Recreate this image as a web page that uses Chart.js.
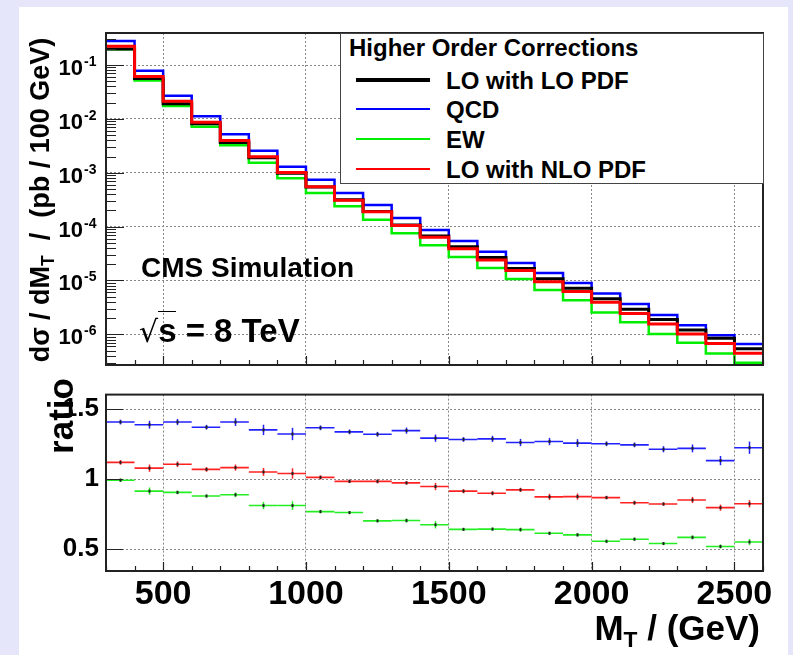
<!DOCTYPE html>
<html>
<head>
<meta charset="utf-8">
<script src="https://cdn.jsdelivr.net/npm/chart.js@4.4.1/dist/chart.umd.min.js"></script>
<style>
  html, body { margin: 0; padding: 0; }
  body { width: 793px; height: 655px; background: #e6e6fa; position: relative; overflow: hidden;
         font-family: 'Liberation Sans', Arial, sans-serif; font-weight: bold; color: #000; }
  #panel { position: absolute; left: 19px; top: 7px; width: 769px; height: 648px; background: #fff; }
  canvas { position: absolute; left: 0; }
  #top { top: 0; }
  #ratio { top: 372px; }
  .txt { position: absolute; white-space: nowrap; line-height: 1; }
  .rot { transform: translate(-50%, -50%) rotate(-90deg); }
  sub { font-size: 0.65em; vertical-align: -0.3em; line-height: 0; }
  #legend { position: absolute; left: 340px; top: 33px; width: 424px; height: 151px; box-sizing: border-box;
            background: #fff; border: 1px solid #444; }
  .lline { position: absolute; left: 15px; width: 74px; }
  .ltxt { position: absolute; left: 105px; font-size: 24px; line-height: 1; white-space: nowrap; }
</style>
</head>
<body>
<div id="panel"></div>
<canvas id="top" width="793" height="372"></canvas>
<canvas id="ratio" width="793" height="283"></canvas>

<div class="txt rot" style="left:40px; top:200px; font-size:27px;">dσ / dM<sub>T</sub>&nbsp; /&nbsp; (pb / 100 GeV)</div>
<div class="txt rot" style="left:60px; top:416px; font-size:35px;">ratio</div>
<div class="txt" style="right:33px; top:610px; font-size:35px;">M<sub>T</sub> / (GeV)</div>
<div class="txt" style="left:141px; top:254px; font-size:28px;">CMS Simulation</div>
<div class="txt" style="left:139px; top:314px; font-size:33px;"><span style="font-family:'DejaVu Sans'; font-weight:normal; font-size:30px;">√</span><span style="border-top:1.5px solid #000;">s</span> = 8 TeV</div>

<div id="legend">
  <div class="ltxt" style="left:8px; top:2px;">Higher Order Corrections</div>
  <div class="lline" style="top:44px; height:3.5px; background:#000;"></div>
  <div class="ltxt" style="top:35px;">LO with LO PDF</div>
  <div class="lline" style="top:74px; height:2px; background:#0000ff;"></div>
  <div class="ltxt" style="top:64px;">QCD</div>
  <div class="lline" style="top:104px; height:2px; background:#00ee00;"></div>
  <div class="ltxt" style="top:94px;">EW</div>
  <div class="lline" style="top:134px; height:2px; background:#ff0000;"></div>
  <div class="ltxt" style="top:124px;">LO with NLO PDF</div>
</div>

<script>
// bin edges of M_T (GeV), 100 GeV bins
const binEdges = [300, 400, 500, 600, 700, 800, 900, 1000, 1100, 1200, 1300, 1400, 1500,
                  1600, 1700, 1800, 1900, 2000, 2100, 2200, 2300, 2400, 2500, 2600];

// d sigma / dM_T (pb / 100 GeV), one value per bin
const loLoPdf = [0.198, 0.0565, 0.0192, 0.00813, 0.00366, 0.00189, 9.75e-4, 5.45e-4, 3.15e-4, 1.91e-4,
                 1.073e-4, 6.69e-5, 4.23e-5, 2.66e-5, 1.67e-5, 1.083e-5, 7.17e-6, 4.56e-6, 2.93e-6,
                 1.89e-6, 1.20e-6, 8.51e-7, 5.40e-7];
const qcd = [0.279, 0.0785, 0.0270, 0.01114, 0.00516, 0.00256, 1.29e-3, 7.45e-4, 4.21e-4, 2.52e-4,
             1.445e-4, 8.65e-5, 5.43e-5, 3.43e-5, 2.11e-5, 1.374e-5, 9.02e-6, 5.71e-6, 3.65e-6,
             2.30e-6, 1.47e-6, 9.64e-7, 6.61e-7];
const ew = [0.197, 0.0517, 0.0174, 0.00715, 0.00325, 0.00153, 7.92e-4, 4.19e-4, 2.40e-4, 1.34e-4,
            7.56e-5, 4.52e-5, 2.72e-5, 1.71e-5, 1.07e-5, 6.65e-6, 4.32e-6, 2.54e-6, 1.68e-6,
            1.02e-6, 7.02e-7, 4.43e-7, 2.98e-7];
const loNloPdf = [0.222, 0.0610, 0.02125, 0.0087, 0.00396, 0.00199, 1.015e-3, 5.52e-4, 3.10e-4, 1.88e-4,
                  1.045e-4, 6.34e-5, 3.87e-5, 2.39e-5, 1.54e-5, 9.47e-6, 6.28e-6, 3.96e-6, 2.44e-6,
                  1.56e-6, 1.02e-6, 6.78e-7, 4.46e-7];

// ratios to LO with LO PDF, with their errors
const ratioQcd = [1.408, 1.389, 1.408, 1.371, 1.408, 1.352, 1.323, 1.367, 1.338, 1.321, 1.347, 1.293,
                  1.284, 1.288, 1.262, 1.269, 1.258, 1.253, 1.245, 1.214, 1.220, 1.133, 1.225];
const errQcd = [0.017, 0.028, 0.022, 0.017, 0.028, 0.037, 0.044, 0.017, 0.017, 0.017, 0.022, 0.026,
                0.017, 0.022, 0.026, 0.026, 0.028, 0.017, 0.017, 0.022, 0.028, 0.033, 0.044];
const ratioNlo = [1.120, 1.079, 1.107, 1.070, 1.083, 1.052, 1.041, 1.013, 0.985, 0.985, 0.974, 0.948,
                  0.915, 0.900, 0.924, 0.874, 0.876, 0.869, 0.832, 0.823, 0.852, 0.797, 0.825];
const errNlo = [0.017, 0.026, 0.020, 0.017, 0.022, 0.028, 0.037, 0.015, 0.013, 0.015, 0.013, 0.026,
                0.015, 0.015, 0.015, 0.022, 0.022, 0.013, 0.015, 0.013, 0.022, 0.022, 0.026];
const ratioEw = [0.993, 0.915, 0.906, 0.880, 0.889, 0.812, 0.812, 0.769, 0.762, 0.703, 0.705, 0.675,
                 0.642, 0.644, 0.640, 0.614, 0.603, 0.557, 0.572, 0.541, 0.585, 0.520, 0.552];
const errEw = [0.013, 0.026, 0.013, 0.011, 0.017, 0.026, 0.031, 0.013, 0.011, 0.011, 0.015, 0.026,
               0.011, 0.011, 0.015, 0.011, 0.013, 0.011, 0.011, 0.011, 0.015, 0.015, 0.022];

const massTicks = [500, 1000, 1500, 2000, 2500];
const logTicks = [1e-6, 1e-5, 1e-4, 1e-3, 1e-2, 1e-1];
const ratioTicks = [0.5, 1, 1.5];

const FONT = "'Liberation Sans', Arial, sans-serif";

// histogram as step line: value of bin i starts at its low edge
function steps(vals) {
  return binEdges.map((x, i) => ({ x, y: vals[Math.min(i, vals.length - 1)] }));
}
function centers(vals) {
  return vals.map((v, i) => ({ x: (binEdges[i] + binEdges[i + 1]) / 2, y: v }));
}

// ROOT-like frame with inward ticks
function frameAndTicks(ctx, chart, yMajor, yMinor, yMajLen, yMinLen) {
  const a = chart.chartArea, xs = chart.scales.x, ys = chart.scales.y;
  ctx.save();
  ctx.strokeStyle = '#222';
  ctx.lineWidth = 1.2;
  ctx.beginPath();
  binEdges.forEach(v => {
    const px = Math.round(xs.getPixelForValue(v)) + 0.5;
    const len = massTicks.includes(v) ? 9 : 5;
    ctx.moveTo(px, a.bottom); ctx.lineTo(px, a.bottom - len);
  });
  yMajor.forEach(v => {
    const py = Math.round(ys.getPixelForValue(v)) + 0.5;
    ctx.moveTo(a.left, py); ctx.lineTo(a.left + yMajLen, py);
  });
  yMinor.forEach(v => {
    const py = Math.round(ys.getPixelForValue(v)) + 0.5;
    ctx.moveTo(a.left, py); ctx.lineTo(a.left + yMinLen, py);
  });
  ctx.stroke();
  ctx.lineWidth = 2;
  ctx.strokeRect(a.left, a.top, a.right - a.left, a.bottom - a.top);
  ctx.restore();
}

const topPlugin = {
  id: 'topFrame',
  afterDraw(chart) {
    const ctx = chart.ctx, ys = chart.scales.y;
    const minor = [];
    logTicks.concat([1e-7]).forEach(d => {
      for (let m = 2; m <= 9; m++) {
        const v = m * d;
        if (v >= ys.min && v <= ys.max) minor.push(v);
      }
    });
    frameAndTicks(ctx, chart, logTicks, minor, 18, 10);
    // 10^n labels
    ctx.save();
    ctx.fillStyle = '#000';
    logTicks.forEach(v => {
      const py = ys.getPixelForValue(v);
      ctx.font = 'bold 22px ' + FONT;
      ctx.textAlign = 'right';
      ctx.textBaseline = 'alphabetic';
      ctx.fillText('10', 83, py + 10);
      ctx.font = 'bold 14px ' + FONT;
      ctx.textAlign = 'left';
      ctx.fillText(String(Math.round(Math.log10(v))), 84, py + 1);
    });
    ctx.restore();
  }
};

const ratioPlugin = {
  id: 'ratioFrame',
  afterDatasetsDraw(chart) {
    const ctx = chart.ctx, xs = chart.scales.x, ys = chart.scales.y;
    ctx.save();
    chart.data.datasets.forEach(ds => {
      ds.data.forEach((p, i) => {
        const px = Math.round(xs.getPixelForValue(p.x)) + 0.5;
        const py = ys.getPixelForValue(p.y);
        const e = ds.errors[i];
        ctx.strokeStyle = ds.pointBorderColor;
        ctx.lineWidth = 1.5;
        ctx.beginPath();
        ctx.moveTo(px, ys.getPixelForValue(p.y + e));
        ctx.lineTo(px, ys.getPixelForValue(p.y - e));
        ctx.stroke();
        ctx.fillStyle = '#222';
        ctx.fillRect(px - 1, py - 1.5, 2, 3);
      });
    });
    ctx.restore();
  },
  afterDraw(chart) {
    frameAndTicks(chart.ctx, chart, ratioTicks, [], 17, 0);
  }
};

const gridOpts = { color: '#888', lineWidth: 1, drawTicks: false };
const borderOpts = { display: false, dash: [2, 2] };

new Chart(document.getElementById('top'), {
  type: 'line',
  data: {
    datasets: [
      { label: 'LO with NLO PDF', data: steps(loNloPdf), borderColor: '#ff0000', borderWidth: 3, order: 0 },
      { label: 'LO with LO PDF', data: steps(loLoPdf), borderColor: '#000000', borderWidth: 3, order: 1 },
      { label: 'QCD', data: steps(qcd), borderColor: '#0000ff', borderWidth: 2.5, order: 2 },
      { label: 'EW', data: steps(ew), borderColor: '#00ee00', borderWidth: 2.5, order: 3 }
    ]
  },
  options: {
    responsive: false, animation: false, events: [],
    layout: { padding: { left: 0, right: 30, top: 33, bottom: 7 } },
    elements: { point: { radius: 0 }, line: { stepped: 'before', tension: 0 } },
    plugins: { legend: { display: false }, tooltip: { enabled: false } },
    scales: {
      x: {
        type: 'linear', min: 300, max: 2600,
        afterBuildTicks: s => { s.ticks = massTicks.map(v => ({ value: v })); },
        afterFit: s => { s.height = 0; },
        ticks: { display: false }, grid: gridOpts, border: borderOpts
      },
      y: {
        type: 'logarithmic', min: 2.7e-7, max: 0.393,
        afterBuildTicks: s => { s.ticks = logTicks.map(v => ({ value: v })); },
        afterFit: s => { s.width = 106; },
        ticks: { display: false }, grid: gridOpts, border: borderOpts
      }
    }
  },
  plugins: [topPlugin]
});

const halfBin = ctx => {
  const xs = ctx.chart.scales.x;
  return xs ? (xs.getPixelForValue(400) - xs.getPixelForValue(300)) / 2 : 14;
};

function ratioSet(label, vals, errs, color, order) {
  return {
    label, data: centers(vals), errors: errs, order,
    showLine: false, pointStyle: 'line', pointRadius: halfBin,
    pointBorderColor: color, pointBackgroundColor: color, pointBorderWidth: 1.6
  };
}

new Chart(document.getElementById('ratio'), {
  type: 'scatter',
  data: {
    datasets: [
      ratioSet('QCD', ratioQcd, errQcd, '#2222ff', 0),
      ratioSet('LO with NLO PDF', ratioNlo, errNlo, '#ff2222', 1),
      ratioSet('EW', ratioEw, errEw, '#22ee22', 2)
    ]
  },
  options: {
    responsive: false, animation: false, events: [],
    layout: { padding: { left: 0, right: 30, top: 6, bottom: 0 } },
    plugins: { legend: { display: false }, tooltip: { enabled: false } },
    scales: {
      x: {
        type: 'linear', min: 300, max: 2600,
        afterBuildTicks: s => { s.ticks = massTicks.map(v => ({ value: v })); },
        afterFit: s => { s.height = 84; },
        ticks: { color: '#000', padding: 7, font: { family: FONT, size: 34, weight: 'bold', lineHeight: 1 },
                 callback: v => String(v) },
        grid: gridOpts, border: borderOpts
      },
      y: {
        type: 'linear', min: 0.345, max: 1.604,
        afterBuildTicks: s => { s.ticks = ratioTicks.map(v => ({ value: v })); },
        afterFit: s => { s.width = 106; },
        ticks: { color: '#000', padding: 7, font: { family: FONT, size: 26, weight: 'bold' },
                 callback: v => String(v) },
        grid: gridOpts, border: borderOpts
      }
    }
  },
  plugins: [ratioPlugin]
});
</script>
</body>
</html>
